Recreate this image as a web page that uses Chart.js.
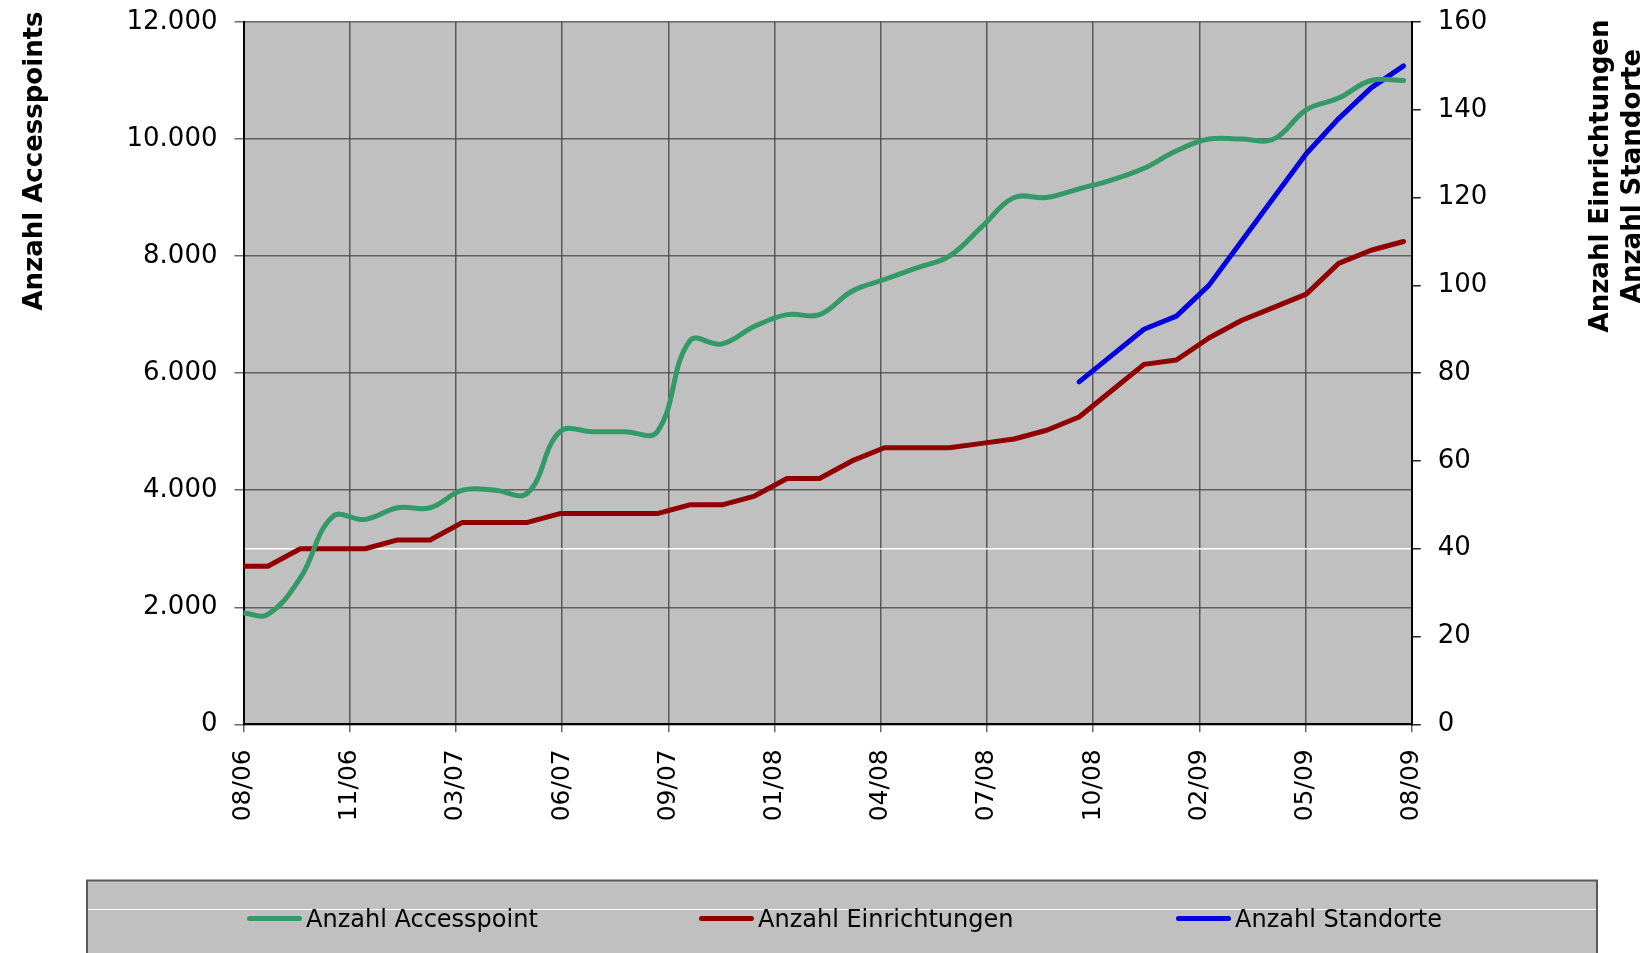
<!DOCTYPE html>
<html lang="de">
<head>
<meta charset="utf-8">
<title>Accesspoints, Einrichtungen, Standorte</title>
<script src="https://cdn.jsdelivr.net/npm/chart.js@4.4.1/dist/chart.umd.min.js"></script>
<style>
  html, body { margin: 0; padding: 0; background: #fff; overflow: hidden; }
  #chart { display: block; }
</style>
</head>
<body>
<canvas id="chart" width="1646" height="953"></canvas>
<script>
// Tick labels on the date axis (evenly spaced from 08/06 to 08/09)
const xTickLabels = ['08/06', '11/06', '03/07', '06/07', '09/07', '01/08', '04/08', '07/08', '10/08', '02/09', '05/09', '08/09'];

// Position of each reading, in months after 08/06
const monthPos = [0, 0.75, 1.75, 2.75, 3.75, 4.75, 5.75, 6.75, 7.75, 8.75, 9.75, 10.75, 11.75, 12.75,
  13.75, 14.75, 15.75, 16.75, 17.75, 18.75, 19.75, 20.75, 21.75, 22.75, 23.75, 24.75, 25.75,
  26.75, 27.75, 28.75, 29.75, 30.75, 31.75, 32.75, 33.75, 34.75, 35.75];

// Left axis
const accesspoints = [1900, 1880, 2500, 3550, 3500, 3700, 3700, 4000, 4000, 3950, 5000, 5000, 5000, 5000,
  6550, 6500, 6800, 7000, 7000, 7400, 7600, 7800, 8000, 8500, 9000, 9000, 9150,
  9300, 9500, 9800, 10000, 10000, 10000, 10500, 10700, 11000, 11000];

// Right axis
const einrichtungen = [36, 36, 40, 40, 40, 42, 42, 46, 46, 46, 48, 48, 48, 48,
  50, 50, 52, 56, 56, 60, 63, 63, 63, 64, 65, 67, 70,
  76, 82, 83, 88, 92, 95, 98, 105, 108, 110];
const standorte = [null, null, null, null, null, null, null, null, null, null, null, null, null, null,
  null, null, null, null, null, null, null, null, null, null, null, null, 78,
  84, 90, 93, 100, 110, 120, 130, 138, 145, 150];

const FONT = "'DejaVu Sans', Verdana, sans-serif";

function toPoints(values) {
  return values.map((v, i) => ({ x: monthPos[i], y: v }));
}

function formatThousands(v) {
  return String(v).replace(/\B(?=(\d{3})+(?!\d))/g, '.');
}

// fixed axis sizes so the plot area lands where the original has it
function fixSize(w, h) {
  return (scale) => {
    if (w) scale.width = w;
    if (h) scale.height = h;
    scale.paddingTop = 0;
    scale.paddingBottom = 0;
    scale.paddingLeft = 0;
    scale.paddingRight = 0;
  };
}

// grey plot area
const plotBackground = {
  id: 'plotBackground',
  beforeDraw(chart) {
    const { ctx, chartArea: a } = chart;
    ctx.save();
    ctx.fillStyle = '#c0c0c0';
    ctx.fillRect(a.left, a.top, a.right - a.left, a.bottom - a.top);
    ctx.restore();
  }
};

// axis titles and the legend box under the chart
const extras = {
  id: 'extras',
  afterDraw(chart) {
    const ctx = chart.ctx;
    ctx.save();
    ctx.fillStyle = '#000';
    ctx.font = 'bold 26px ' + FONT;
    ctx.textAlign = 'center';
    ctx.textBaseline = 'alphabetic';

    const vText = (text, x, y) => {
      ctx.save();
      ctx.translate(x, y);
      ctx.rotate(-Math.PI / 2);
      ctx.fillText(text, 0, 0);
      ctx.restore();
    };
    vText('Anzahl Accesspoints', 41.5, 161);
    vText('Anzahl Einrichtungen', 1608, 176);
    vText('Anzahl Standorte', 1640, 176);

    // legend
    ctx.fillStyle = '#c0c0c0';
    ctx.fillRect(87, 880.5, 1510, 80);
    ctx.strokeStyle = '#5a5a5a';
    ctx.lineWidth = 2;
    ctx.strokeRect(87, 880.5, 1510, 80);
    ctx.strokeStyle = '#fff';
    ctx.lineWidth = 1;
    ctx.beginPath();
    ctx.moveTo(88, 909.5);
    ctx.lineTo(1596, 909.5);
    ctx.stroke();

    const itemX = [247, 699, 1176];
    ctx.font = '24px ' + FONT;
    ctx.textAlign = 'left';
    chart.data.datasets.forEach((ds, i) => {
      ctx.strokeStyle = ds.borderColor;
      ctx.lineWidth = 5;
      ctx.lineCap = 'round';
      ctx.beginPath();
      ctx.moveTo(itemX[i] + 2.5, 918.5);
      ctx.lineTo(itemX[i] + 52.5, 918.5);
      ctx.stroke();
      ctx.fillStyle = '#000';
      ctx.fillText(ds.label, itemX[i] + 59, 927);
    });
    ctx.restore();
  }
};

new Chart(document.getElementById('chart'), {
  type: 'line',
  data: {
    datasets: [
      {
        label: 'Anzahl Accesspoint',
        data: toPoints(accesspoints),
        yAxisID: 'y',
        borderColor: '#339966',
        borderWidth: 5,
        tension: 0.4,
        pointRadius: 0,
        borderCapStyle: 'round',
        borderJoinStyle: 'round'
      },
      {
        label: 'Anzahl Einrichtungen',
        data: toPoints(einrichtungen),
        yAxisID: 'y1',
        borderColor: '#900000',
        borderWidth: 5,
        tension: 0,
        pointRadius: 0,
        borderCapStyle: 'round',
        borderJoinStyle: 'round'
      },
      {
        label: 'Anzahl Standorte',
        data: toPoints(standorte),
        yAxisID: 'y1',
        borderColor: '#0000e0',
        borderWidth: 5,
        tension: 0,
        pointRadius: 0,
        borderCapStyle: 'round',
        borderJoinStyle: 'round'
      }
    ]
  },
  options: {
    responsive: false,
    devicePixelRatio: 1,
    animation: false,
    layout: { padding: { top: 22, left: 0, right: 0, bottom: 0 } },
    plugins: {
      legend: { display: false },
      tooltip: { enabled: false }
    },
    scales: {
      x: {
        type: 'linear',
        position: 'bottom',
        min: 0,
        max: 36,
        afterBuildTicks: (scale) => {
          scale.ticks = xTickLabels.map((_, k) => ({ value: k * 36 / (xTickLabels.length - 1) }));
        },
        afterFit: fixSize(0, 228.7),
        ticks: {
          autoSkip: false,
          minRotation: 90,
          maxRotation: 90,
          padding: 17,
          color: '#000',
          font: { family: FONT, size: 25 },
          callback: (value, index) => xTickLabels[index]
        },
        grid: { color: 'rgba(55,55,55,0.75)', lineWidth: 1.5, tickLength: 8 },
        border: { color: '#000', width: 2 }
      },
      y: {
        position: 'left',
        min: 0,
        max: 12000,
        afterFit: fixSize(243.5, 0),
        ticks: {
          stepSize: 2000,
          padding: 17,
          color: '#000',
          font: { family: FONT, size: 26 },
          callback: (v) => formatThousands(v)
        },
        grid: { color: 'rgba(70,70,70,0.8)', lineWidth: 1.5, tickLength: 9 },
        border: { color: '#000', width: 2 }
      },
      y1: {
        position: 'right',
        min: 0,
        max: 160,
        afterFit: fixSize(234.3, 0),
        ticks: {
          stepSize: 20,
          padding: 17,
          color: '#000',
          font: { family: FONT, size: 26 }
        },
        grid: {
          color: (ctx) => (ctx.tick && ctx.tick.value === 40 ? '#ffffff' : 'rgba(0,0,0,0)'),
          tickColor: '#222',
          lineWidth: 1.5,
          tickLength: 9
        },
        border: { color: '#000', width: 2 }
      }
    }
  },
  plugins: [plotBackground, extras]
});
</script>
</body>
</html>
